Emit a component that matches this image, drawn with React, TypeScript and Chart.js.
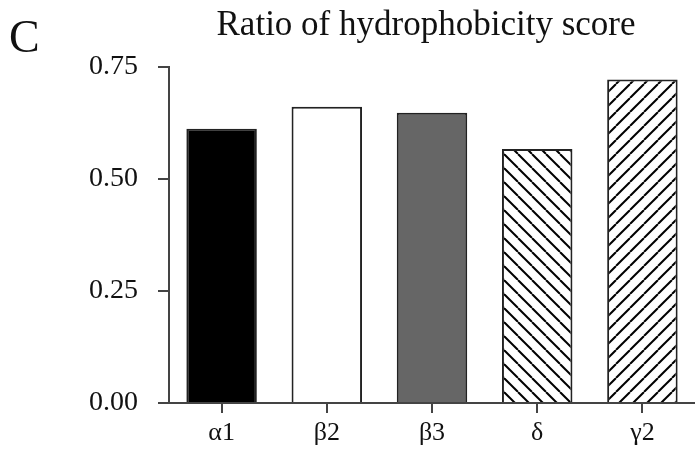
import React, { useEffect, useRef } from "react";
import { Chart, registerables } from "chart.js";

Chart.register(...registerables);

const categories = ["α1", "β2", "β3", "δ", "γ2"];
const ratios = [0.612, 0.661, 0.648, 0.567, 0.722];
const yTickValues = [0, 0.25, 0.5, 0.75];
const chartTitle = "Ratio of hydrophobicity score";
const panelLabel = "C";

function makeHatch(dir: "back" | "fwd"): CanvasPattern | string {
  const p = 14;
  const c = document.createElement("canvas");
  c.width = p;
  c.height = p;
  const ctx = c.getContext("2d");
  if (!ctx) return "#fff";
  ctx.fillStyle = "#fff";
  ctx.fillRect(0, 0, p, p);
  ctx.strokeStyle = "#000";
  ctx.lineWidth = 2;
  for (const x0 of [-p, 0, p]) {
    ctx.beginPath();
    if (dir === "back") {
      ctx.moveTo(x0, 0);
      ctx.lineTo(x0 + p, p);
    } else {
      ctx.moveTo(x0 + p, 0);
      ctx.lineTo(x0, p);
    }
    ctx.stroke();
  }
  return ctx.createPattern(c, "repeat") || "#fff";
}

const labelsPlugin = {
  id: "panelTitle",
  afterDraw(chart: any) {
    const ctx = chart.ctx;
    ctx.save();
    ctx.fillStyle = "#111";
    ctx.textBaseline = "alphabetic";
    ctx.textAlign = "left";
    ctx.font = '46px "Liberation Serif"';
    ctx.fillText(panelLabel, 9, 52);
    ctx.textAlign = "center";
    ctx.font = '35px "Liberation Serif"';
    ctx.fillText(chartTitle, 426, 35);
    ctx.restore();
  },
};

export default function App() {
  const ref = useRef<HTMLCanvasElement>(null);
  useEffect(() => {
    document.body.style.margin = "0";
    if (!ref.current) return;
    const fills = ["#000000", "#ffffff", "#666666", makeHatch("back"), makeHatch("fwd")];
    const chart = new Chart(ref.current, {
      type: "bar",
      data: {
        labels: categories,
        datasets: [
          {
            data: ratios,
            backgroundColor: fills as any,
            borderColor: "#222",
            borderWidth: 2,
            categoryPercentage: 1,
            barPercentage: 0.67,
          },
        ],
      },
      options: {
        animation: false,
        responsive: false,
        maintainAspectRatio: false,
        layout: { padding: { top: 67, right: 0, left: 0, bottom: 0 } },
        plugins: { legend: { display: false }, tooltip: { enabled: false }, title: { display: false } },
        scales: {
          x: {
            offset: true,
            grid: { drawOnChartArea: false, offset: false, tickLength: 10, color: "#444", lineWidth: 2 },
            border: { display: true, color: "#444", width: 2 },
            ticks: { color: "#111", font: { family: "Liberation Serif", size: 26 }, padding: 5 },
            afterFit: (s: any) => {
              s.height = 50;
            },
          },
          y: {
            min: 0,
            max: 0.75,
            afterBuildTicks: (s: any) => {
              s.ticks = yTickValues.map((v) => ({ value: v }));
            },
            grid: { drawOnChartArea: false, tickLength: 11, color: "#444", lineWidth: 2 },
            border: { display: true, color: "#444", width: 2 },
            ticks: {
              color: "#111",
              font: { family: "Liberation Serif", size: 28 },
              padding: 20,
              callback: (v: any) => Number(v).toFixed(2),
            },
            afterFit: (s: any) => {
              s.width = 169;
            },
          },
        },
      },
      plugins: [labelsPlugin],
    });
    return () => chart.destroy();
  }, []);
  return (
    <div style={{ width: 695, height: 453, background: "#fff" }}>
      <canvas ref={ref} width={695} height={453} style={{ display: "block" }} />
    </div>
  );
}
